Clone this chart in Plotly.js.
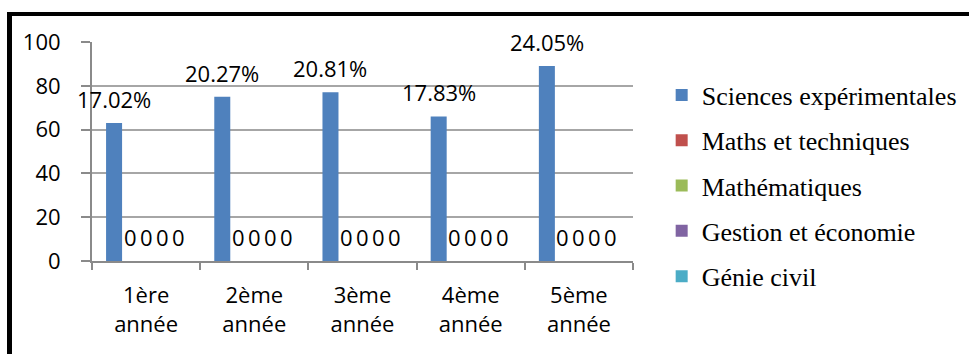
<!DOCTYPE html>
<html>
<head>
<meta charset="utf-8">
<script src="https://cdn.plot.ly/plotly-3.0.1.min.js"></script>
<style>
  html, body { margin: 0; padding: 0; background: #fff; }
  #wrap { position: relative; width: 969px; height: 354px; overflow: hidden; }
  #chart { position: absolute; left: 0; top: 0; width: 969px; height: 354px; }
  #frame { position: absolute; left: 7px; top: 12px; width: 980px; height: 360px;
           border-left: 5px solid #000; border-top: 4px solid #000; pointer-events: none; }
</style>
</head>
<body>
<div id="wrap">
  <div id="chart"></div>
  <div id="frame"></div>
</div>
<script>
// Years of study (category axis)
const years = ['1ère<br>année', '2ème<br>année', '3ème<br>année', '4ème<br>année', '5ème<br>année'];

// Streams (series)
const streams = ['Sciences expérimentales', 'Maths et techniques', 'Mathématiques',
                 'Gestion et économie', 'Génie civil'];
const streamColors = ['#4F81BD', '#C0504D', '#9BBB59', '#8064A2', '#4BACC6'];

// Counts per stream and year
const sciencesExp = [63, 75, 77, 66, 89];
const mathsTech   = [0, 0, 0, 0, 0];
const maths       = [0, 0, 0, 0, 0];
const gestionEco  = [0, 0, 0, 0, 0];
const genieCivil  = [0, 0, 0, 0, 0];

// Data labels shown above each bar
const sciencesExpLabels = ['17.02%', '20.27%', '20.81%', '17.83%', '24.05%'];

const seriesValues = [sciencesExp, mathsTech, maths, gestionEco, genieCivil];
const seriesLabels = [sciencesExpLabels,
                      mathsTech.map(String), maths.map(String),
                      gestionEco.map(String), genieCivil.map(String)];

const labelFont = '"Open Sans", Lato, sans-serif';
const bargap = 0.26;
const barW = (1 - bargap) / streams.length;

const traces = streams.map((name, i) => ({
  type: 'bar',
  name: name,
  x: years,
  y: seriesValues[i],
  marker: { color: streamColors[i] },
  legendgroup: 'g' + i,
  hoverinfo: 'skip'
}));

// Value labels placed at each bar's top through the axes' data coordinates
const annotations = [];
seriesValues.forEach((vals, i) => {
  vals.forEach((v, j) => {
    annotations.push({
      xref: 'x', yref: 'y',
      x: j + (i - (streams.length - 1) / 2) * barW,
      y: v,
      text: seriesLabels[i][j],
      showarrow: false,
      xanchor: 'center', yanchor: 'middle',
      yshift: 24,
      font: { family: labelFont, size: 22, color: '#000' }
    });
  });
});

const layout = {
  width: 969, height: 354,
  margin: { l: 92, r: 336, t: 42, b: 93, autoexpand: false },
  paper_bgcolor: '#fff', plot_bgcolor: '#fff',
  barmode: 'group', bargap: bargap, bargroupgap: 0,
  showlegend: true,
  legend: {
    x: 1.053, xanchor: 'left', y: 0.865, yanchor: 'top',
    xref: 'paper', yref: 'paper',
    font: { family: '"Liberation Serif", "Times New Roman", serif', size: 26, color: '#000' },
    traceorder: 'grouped', tracegroupgap: 8.5,
    bgcolor: 'rgba(0,0,0,0)'
  },
  xaxis: {
    type: 'category',
    range: [-0.5, years.length - 0.5],
    showline: true, linecolor: '#8a8a8a', linewidth: 2,
    ticks: 'outside', tickson: 'boundaries', ticklen: 7, tickwidth: 2, tickcolor: '#8a8a8a',
    showgrid: false, zeroline: false,
    tickfont: { family: labelFont, size: 22, color: '#000' },
    ticklabelstandoff: 14,
    fixedrange: true
  },
  yaxis: {
    range: [0, 100], dtick: 20,
    showline: true, linecolor: '#8a8a8a', linewidth: 2,
    ticks: 'outside', ticklen: 9, tickwidth: 2, tickcolor: '#8a8a8a',
    showgrid: true, gridcolor: '#a6a6a6', gridwidth: 2,
    zeroline: false,
    tickfont: { family: labelFont, size: 22, color: '#000' },
    ticklabelstandoff: 16,
    fixedrange: true
  },
  annotations: annotations
};

Plotly.newPlot('chart', traces, layout, { staticPlot: true, displayModeBar: false });
</script>
</body>
</html>
